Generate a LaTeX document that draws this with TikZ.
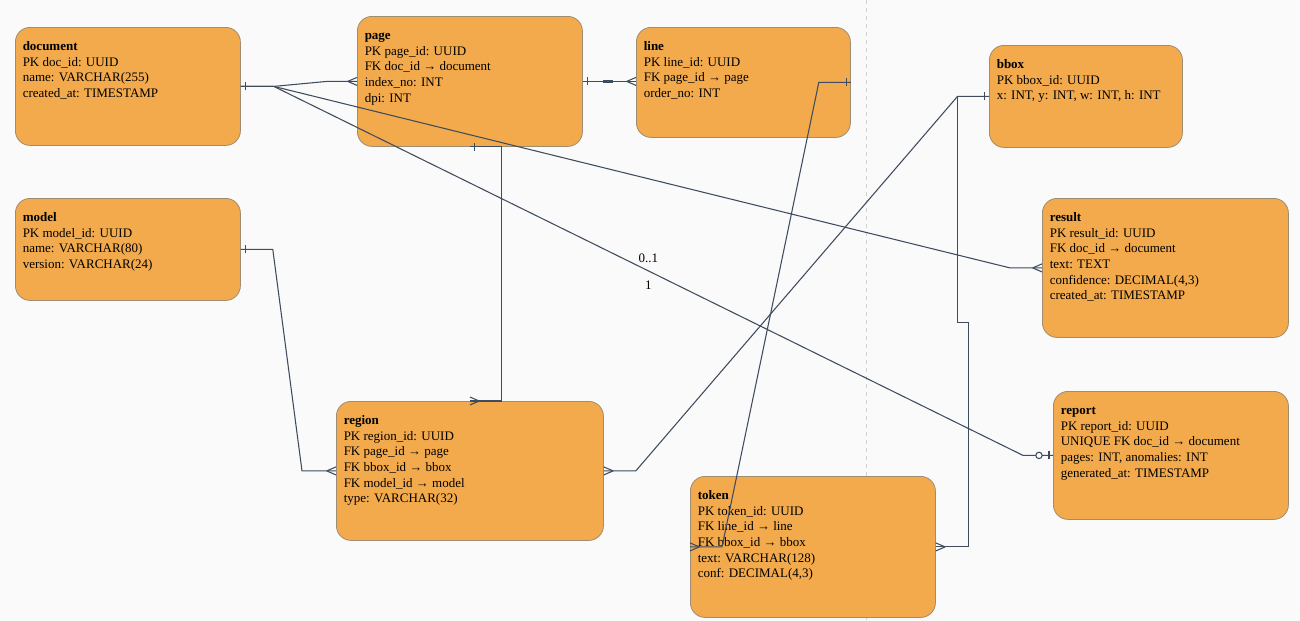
\documentclass[tikz,border=0pt]{standalone}
\usepackage{fontspec}
\setmainfont{Liberation Serif}
\usetikzlibrary{decorations.markings}

\definecolor{entfill}{HTML}{F2AA4C}
\definecolor{entline}{HTML}{A08C70}
\definecolor{wire}{HTML}{3E4C5E}
\definecolor{paper}{HTML}{FAFAFB}

\tikzset{
	entity/.style={draw=entline, fill=entfill, line width=0.6pt, rounded corners=11pt, anchor=north west, inner sep=0pt},
	fields/.style={anchor=north west, align=left, inner sep=0pt, font=\fontsize{9.75}{11.7}\selectfont},
	rel/.style={draw=wire, line width=0.8pt},
	one/.style={postaction={decorate, decoration={markings, mark=at position 3.5pt with {\draw[rel] (0,-3pt) -- (0,3pt);}}}},
	many/.style={postaction={decorate, decoration={markings, mark=at position -7pt with {\draw[rel] (0,0) -- (7pt,3pt) (0,0) -- (7pt,-3pt);}}}},
	zeroone/.style={postaction={decorate, decoration={markings, mark=at position -10.5pt with {\draw[rel, fill=paper] (0,0) circle (2.4pt);}, mark=at position -3pt with {\draw[rel] (0,-3pt) -- (0,3pt);}}}},
	thickbit/.style={postaction={decorate, decoration={markings, mark=at position 15pt with {\draw[rel, line width=1.8pt] (0,0) -- (7.5pt,0);}}}},
	card/.style={font=\fontsize{9.75}{11.7}\selectfont, inner sep=1pt},
}

\begin{document}
\begin{tikzpicture}[x=0.75pt,y=-0.75pt]
	\fill[paper] (0,0) rectangle (1300,621);
	\useasboundingbox (0,0) rectangle (1300,621);
	\draw[black!18, line width=0.6pt, dash pattern=on 3pt off 3pt] (866,0) -- (866,621);

	% tables
	\node[entity, minimum width=168.75pt, minimum height=88.5pt] (doc) at (15,27) {};
	\node[fields] (doc-f) at ([shift={(7.5,12.5)}]doc.north west) {\textbf{\strut document}\\PK doc\_id: UUID\\name: VARCHAR(255)\\created\_at: TIMESTAMP};

	\node[entity, minimum width=168.75pt, minimum height=97.5pt] (page) at (357,16) {};
	\node[fields] (page-f) at ([shift={(7.5,12.5)}]page.north west) {\textbf{\strut page}\\PK page\_id: UUID\\FK doc\_id → document\\index\_no: INT\\dpi: INT};

	\node[entity, minimum width=160.5pt, minimum height=82.5pt] (line) at (636,27) {};
	\node[fields] (line-f) at ([shift={(7.5,12.5)}]line.north west) {\textbf{\strut line}\\PK line\_id: UUID\\FK page\_id → page\\order\_no: INT};

	\node[entity, minimum width=144.75pt, minimum height=76.5pt] (bbox) at (989,45) {};
	\node[fields] (bbox-f) at ([shift={(7.5,12.5)}]bbox.north west) {\textbf{\strut bbox}\\PK bbox\_id: UUID\\x: INT, y: INT, w: INT, h: INT};

	\node[entity, minimum width=168.75pt, minimum height=76.5pt] (model) at (15,198) {};
	\node[fields] (model-f) at ([shift={(7.5,12.5)}]model.north west) {\textbf{\strut model}\\PK model\_id: UUID\\name: VARCHAR(80)\\version: VARCHAR(24)};

	\node[entity, minimum width=184.5pt, minimum height=104.25pt] (result) at (1042,198) {};
	\node[fields] (result-f) at ([shift={(7.5,12.5)}]result.north west) {\textbf{\strut result}\\PK result\_id: UUID\\FK doc\_id → document\\text: TEXT\\confidence: DECIMAL(4,3)\\created\_at: TIMESTAMP};

	\node[entity, minimum width=176.25pt, minimum height=96pt] (report) at (1053,391) {};
	\node[fields] (report-f) at ([shift={(7.5,12.5)}]report.north west) {\textbf{\strut report}\\PK report\_id: UUID\\UNIQUE FK doc\_id → document\\pages: INT, anomalies: INT\\generated\_at: TIMESTAMP};

	\node[entity, minimum width=200.25pt, minimum height=104.25pt] (region) at (336,401) {};
	\node[fields] (region-f) at ([shift={(7.5,12.5)}]region.north west) {\textbf{\strut region}\\PK region\_id: UUID\\FK page\_id → page\\FK bbox\_id → bbox\\FK model\_id → model\\type: VARCHAR(32)};

	\node[entity, minimum width=183.75pt, minimum height=105.75pt] (token) at (690,476) {};
	\node[fields] (token-f) at ([shift={(7.5,12.5)}]token.north west) {\textbf{\strut token}\\PK token\_id: UUID\\FK line\_id → line\\FK bbox\_id → bbox\\text: VARCHAR(128)\\conf: DECIMAL(4,3)};

	% relations
	\draw[rel, one, many] (doc.east) -- ++(33,0) -- ([shift={(-30,0)}]page.west) -- (page.west);
	\draw[rel, one, many] (doc.east) -- ++(33,0) -- ([shift={(-32,0)}]result.west) -- (result.west);
	\draw[rel, one, zeroone] (doc.east) -- ++(33,0) -- node[card, above=5pt] (card-hi) {0..1} node[card, below=6pt] (card-lo) {1} ([shift={(-30,0)}]report.west) -- (report.west);
	\draw[rel, one, thickbit, many] (page.east) -- (page.east -| line.west);
	\draw[rel, one, many] (page.south) -- ++(32,0) |- (region.north);
	\draw[rel, one, many] (line.east) -- ++(-32,0) -- ([shift={(32,0)}]token.west) -- (token.west);
	\draw[rel, one, many] (bbox.west) -- ++(-31.5,0) -- ([shift={(32,0)}]region.east) -- (region.east);
	\draw[rel, many] (bbox.west) -- ++(-31.5,0) -- ++(0,226) -- ++(11,0) |- (token.east);
	\draw[rel, one, many] (model.east) -- ++(32,0) -- ([shift={(-34,0)}]region.west) -- (region.west);
\end{tikzpicture}
\end{document}
